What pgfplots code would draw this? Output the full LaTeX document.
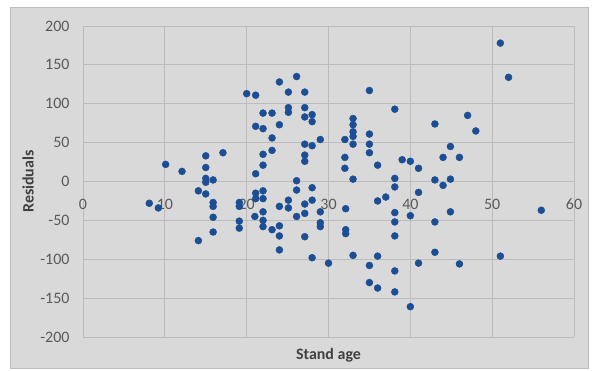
\documentclass[border=0pt]{standalone}
\usepackage{pgfplots}
\pgfplotsset{compat=1.18}
\usepackage{fontspec}
\setmainfont{Carlito}
\definecolor{dotblue}{RGB}{28,78,148}
\definecolor{chartbg}{RGB}{217,217,217}
\definecolor{gridc}{RGB}{188,188,188}
\definecolor{txt}{RGB}{89,89,89}
\definecolor{titc}{RGB}{64,64,64}
\begin{document}
\begin{tikzpicture}[x=1bp,y=1bp]
\fill[white] (0,0) rectangle (595,370);
\filldraw[fill=chartbg, draw=gridc, line width=0.8bp] (10,2) rectangle (588,363);
\begin{axis}[
 at={(83bp,33bp)}, anchor=south west,
 scale only axis, width=491bp, height=311bp,
 xmin=0,xmax=60,ymin=-200,ymax=200,
 xtick={0,10,...,60}, ytick={-200,-150,...,200},
 grid=major, grid style={gridc, line width=0.8bp},
 axis x line=middle, axis y line=left,
 axis line style={draw=none},
 major tick length=0pt,
 hide obscured x ticks=false, hide obscured y ticks=false,
 ticklabel style={font=\fontsize{16}{19}\selectfont, text=txt},
 /pgf/number format/assume math mode=true,
 xticklabel style={anchor=north, yshift=-14bp},
 yticklabel style={anchor=east, xshift=-10bp},
 every axis x label/.style={at={(axis description cs:0.5,-0.058)}, anchor=center, font=\fontsize{16}{19}\selectfont\bfseries, text=titc},
 every axis y label/.style={at={(axis description cs:-0.112,0.5)}, anchor=center, rotate=90, font=\fontsize{16}{19}\selectfont\bfseries, text=titc},
 xlabel={Stand age}, ylabel={Residuals},
]
\addplot[only marks, mark=*, mark size=3.5bp, mark options={draw=dotblue, fill=dotblue}] coordinates {
(8.1,-28) (9.2,-34) (10.1,22) (12.1,13) (14.1,-12) (14.1,-76)
(15,33) (15,18) (15,4) (15,-1) (15.9,2) (15,-16) (15.9,-27) (15.9,-32)
(15.9,-46) (15.9,-65) (17.1,37) (19.1,-27) (19.1,-32) (19.1,-51) (19.1,-60)
(20,113) (21.1,111) (22,88) (23.1,88) (21.1,71) (22,68) (24,73) (23.1,56)
(23.1,40) (22,35) (22,21) (21.1,10) (24,128) (25.1,115) (25.1,95) (25.1,89)
(26.1,135) (27.1,115) (27.1,95) (27.1,83) (28,86) (28,77) (27.1,48) (28,46)
(29,54) (27.1,34) (27.1,26) (26.1,1) (26.1,-11) (28,-8)
(21.1,-15) (22,-12) (21.1,-22) (22,-22) (21,-45) (22,-39) (22,-50) (22,-58)
(23.1,-62) (24,-32) (24,-57) (24,-70) (24,-88) (25.1,-24) (25.1,-34) (26.1,-45)
(27.1,-29) (27.1,-41) (28,-24) (27.1,-71) (29,-39) (29,-53) (29,-58) (28,-98) (30,-105)
(35,117) (38.1,93) (33,81) (33,73) (33,64) (33,58) (33,48) (32,54) (35,61)
(35,48) (35,37) (32,31) (32,17) (33,3) (36,21) (39,28) (40,26) (41,17)
(38.1,4) (38.1,-7)
(32.1,-35) (32.1,-62) (32.1,-67) (33,-95) (36,-25) (37,-20) (38.1,-40)
(38.1,-52) (38.1,-70) (36,-96) (35,-108) (35,-130) (36,-137) (38.1,-115)
(38.1,-142) (40,-44) (40,-161)
(41,-14) (41,-105) (51,178) (52,134) (47,85) (43,74) (48,65) (44.9,45)
(44,31) (46,31) (43,2) (44,-5) (44.9,3) (44.9,-39) (43,-52) (56,-37)
(43,-91) (46,-106) (51,-96)
};
\end{axis}
\end{tikzpicture}
\end{document}
